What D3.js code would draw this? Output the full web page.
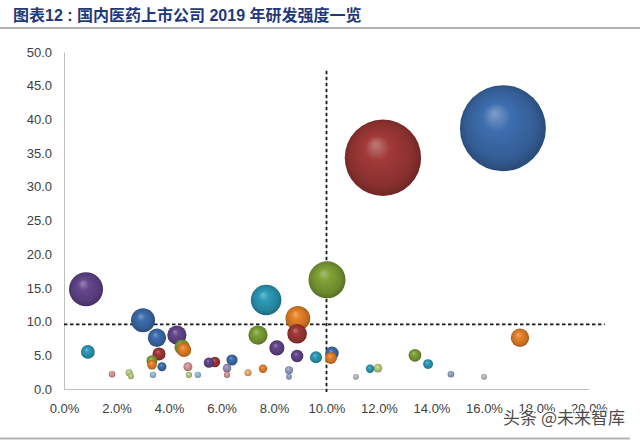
<!DOCTYPE html>
<html>
<head>
<meta charset="utf-8">
<script src="https://cdn.jsdelivr.net/npm/d3@7"></script>
<style>
  body { margin: 0; background: #fff; }
  svg { display: block; }
</style>
</head>
<body>
<div id="chart"></div>
<script>
(function () {

  // R&D intensity (%, x) and R&D spend (y, also drives bubble width)
  var intensity = [16.72, 12.15, 0.84, 10.02, 7.70, 3.01, 8.91, 8.88, 7.39, 4.30,
                   3.54, 17.37, 0.91, 4.50, 4.57, 8.11, 8.88, 9.60, 10.21, 10.17,
                   3.62, 13.37, 13.87, 6.40, 5.75, 5.52, 3.35, 3.35, 3.73, 4.72,
                   6.21, 6.21, 7.58, 7.01, 8.57, 8.57, 11.66, 11.96, 11.12, 14.74,
                   16.00, 1.83, 2.48, 2.55, 3.39, 4.76, 5.10];
  var spend = [38.7, 34.3, 14.8, 16.2, 13.2, 10.2, 10.5, 8.2, 8.0, 8.0,
               7.6, 7.6, 5.5, 6.2, 5.8, 6.1, 4.9, 4.7, 5.3, 4.6,
               5.2, 5.0, 3.7, 4.3, 4.0, 3.9, 4.2, 3.6, 3.3, 3.3,
               3.1, 2.1, 3.0, 2.4, 2.8, 1.8, 3.0, 3.1, 1.8, 2.2,
               1.8, 2.2, 2.4, 1.9, 2.1, 2.1, 2.1];
  var pointColors = ['blue', 'red', 'purple', 'green', 'aqua', 'blue', 'orange', 'red', 'green', 'purple',
                     'blue', 'orange', 'aqua', 'green', 'orange', 'purple', 'purple', 'aqua', 'blue', 'orange',
                     'red', 'green', 'aqua', 'blue', 'red', 'purple', 'green', 'orange', 'blue', 'pink',
                     'lilac', 'pink', 'orange', 'peach', 'steel', 'steel', 'aqua', 'lime', 'gray', 'steel',
                     'gray', 'pink', 'lime', 'lime', 'sky', 'lime', 'sky'];

  var xTicks = [0, 2, 4, 6, 8, 10, 12, 14, 16, 18, 20];
  var yTicks = [0, 5, 10, 15, 20, 25, 30, 35, 40, 45, 50];
  var refX = 10;      // vertical dashed line
  var refY = 9.6;     // horizontal dashed line

  var palette = {
    blue: '#3a68a6', red: '#9a3634', purple: '#5f4386', green: '#789a33',
    aqua: '#2a93b0', orange: '#de7a24', pink: '#cf8f8e', lilac: '#9a88b6',
    peach: '#eba56c', steel: '#8b9cc0', lime: '#b4c77a', gray: '#b4b4bc', sky: '#8fb9cf'
  };

  var W = 640, H = 441;
  var svg = d3.select('#chart').append('svg')
    .attr('width', W).attr('height', H);

  var x = d3.scaleLinear().domain([0, 20]).range([64, 589]);
  var y = d3.scaleLinear().domain([0, 50]).range([389, 52]);
  var r = d3.scaleLinear().domain([0, d3.max(spend)]).range([0.9, 43]);

  // sphere-like gradients
  var defs = svg.append('defs');
  Object.keys(palette).forEach(function (k) {
    var c = d3.color(palette[k]);
    var g = defs.append('radialGradient')
      .attr('id', 'g-' + k)
      .attr('cx', '50%').attr('cy', '50%').attr('r', '55%')
      .attr('fx', '40%').attr('fy', '32%');
    g.append('stop').attr('offset', '0%').attr('stop-color', d3.interpolateRgb(c, '#fff')(0.35));
    g.append('stop').attr('offset', '30%').attr('stop-color', c.brighter(0.15));
    g.append('stop').attr('offset', '75%').attr('stop-color', c.darker(0.35));
    g.append('stop').attr('offset', '92%').attr('stop-color', c.darker(0.9));
    g.append('stop').attr('offset', '100%').attr('stop-color', c.darker(0.5));
  });

  // title
  svg.append('text')
    .attr('x', 13).attr('y', 21)
    .attr('font-family', '"Liberation Sans", "Noto Sans CJK SC", sans-serif')
    .attr('font-weight', 'bold')
    .attr('font-size', 16)
    .attr('fill', '#1f3a7a')
    .text('图表12 : 国内医药上市公司 2019 年研发强度一览');
  svg.append('line')
    .attr('x1', 0).attr('x2', W).attr('y1', 28).attr('y2', 28)
    .attr('stroke', '#b3b3b3').attr('stroke-width', 2);
  svg.append('line')
    .attr('x1', 0).attr('x2', 630).attr('y1', 438.5).attr('y2', 438.5)
    .attr('stroke', '#b3b3b3').attr('stroke-width', 2);

  // axes
  var labelFont = '"Liberation Sans", Arial, sans-serif';
  var xAxis = svg.append('g')
    .attr('transform', 'translate(0,' + y(0) + ')')
    .call(d3.axisBottom(x).tickValues(xTicks).tickSize(0).tickPadding(15)
      .tickFormat(function (d) { return d3.format('.1f')(d) + '%'; }));
  var yAxis = svg.append('g')
    .attr('transform', 'translate(' + x(0) + ',0)')
    .call(d3.axisLeft(y).tickValues(yTicks).tickSize(0).tickPadding(12)
      .tickFormat(d3.format('.1f')));
  [xAxis, yAxis].forEach(function (a) {
    a.select('.domain').attr('stroke', '#bfbfbf').attr('stroke-width', 1);
    a.selectAll('text').attr('font-family', labelFont).attr('font-size', 13).attr('fill', '#404040');
  });
  xAxis.select('.domain').attr('d', 'M' + x(0) + ',0.5H' + x(20));

  // reference lines
  svg.append('line')
    .attr('x1', x(refX)).attr('x2', x(refX))
    .attr('y1', y(47.2)).attr('y2', y(0) + 3)
    .attr('stroke', '#1a1a1a').attr('stroke-width', 1.8)
    .attr('stroke-dasharray', '3.5,2.5');
  svg.append('line')
    .attr('x1', x(0)).attr('x2', x(20.6))
    .attr('y1', y(refY)).attr('y2', y(refY))
    .attr('stroke', '#1a1a1a').attr('stroke-width', 1.8)
    .attr('stroke-dasharray', '3.5,2.5');

  // bubbles, largest first so the small ones sit on top
  var points = intensity.map(function (d, i) {
    return { x: d, y: spend[i], c: pointColors[i] };
  }).sort(function (a, b) { return b.y - a.y; });

  svg.append('g').selectAll('circle')
    .data(points).enter()
    .append('circle')
    .attr('cx', function (d) { return x(d.x); })
    .attr('cy', function (d) { return y(d.y); })
    .attr('r', function (d) { return r(d.y); })
    .attr('fill', function (d) { return 'url(#g-' + d.c + ')'; });

  // watermark (sits over the last tick labels, as in the source image)
  svg.append('text')
    .attr('x', 625).attr('y', 424)
    .attr('text-anchor', 'end')
    .attr('font-family', '"Noto Sans CJK SC", sans-serif')
    .attr('font-size', 17)
    .attr('fill', '#3a3a3a')
    .attr('stroke', '#fff').attr('stroke-width', 2.5)
    .attr('paint-order', 'stroke')
    .attr('opacity', 0.9)
    .text('头条 @未来智库');

})();
</script>
</body>
</html>
